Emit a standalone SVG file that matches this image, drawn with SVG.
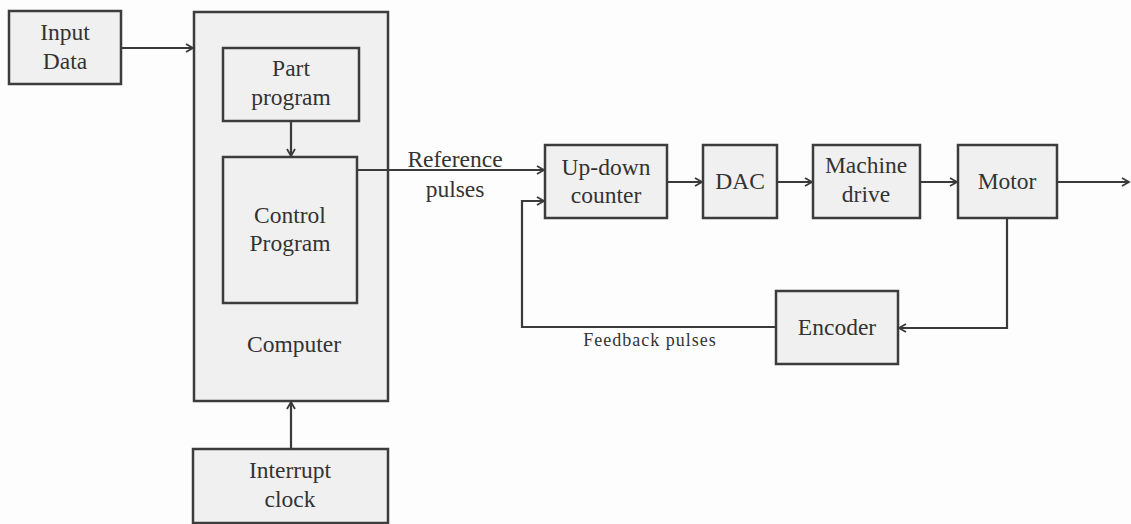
<svg xmlns="http://www.w3.org/2000/svg" width="1131" height="524" viewBox="0 0 1131 524">
  <style>
    .box { fill: #f0f0f0; stroke: #3c3c3c; stroke-width: 2.5; }
    .lbl { font-family: 'Liberation Serif', 'DejaVu Serif', serif; font-size: 23.5px; fill: #333; text-anchor: middle; }
    .small { font-family: 'Liberation Serif', 'DejaVu Serif', serif; font-size: 18px; fill: #333; text-anchor: middle; letter-spacing: 1px; }
    .wire { fill: none; stroke: #3a3a3a; stroke-width: 2.2; }
  </style>
  <defs>
    <marker id="open" markerUnits="userSpaceOnUse" markerWidth="12" markerHeight="12" refX="8" refY="5" orient="auto">
      <path d="M1,1 L8,5 L1,9" fill="none" stroke="#3a3a3a" stroke-width="1.8"/>
    </marker>
  </defs>
  <rect width="1131" height="524" fill="#fdfdfd"/>

  <g id="input-data">
    <rect class="box" x="9" y="11" width="112" height="73"/>
    <text class="lbl" x="65" y="40">Input</text>
    <text class="lbl" x="65" y="69">Data</text>
  </g>

  <g id="computer">
    <rect class="box" x="194" y="12" width="194" height="389"/>
    <text class="lbl" x="294" y="352">Computer</text>
  </g>

  <g id="part-program">
    <rect class="box" x="223" y="48" width="136" height="73"/>
    <text class="lbl" x="291" y="76">Part</text>
    <text class="lbl" x="291" y="105">program</text>
  </g>

  <g id="control-program">
    <rect class="box" x="223" y="157" width="134" height="146"/>
    <text class="lbl" x="290" y="223">Control</text>
    <text class="lbl" x="290" y="251">Program</text>
  </g>

  <g id="interrupt-clock">
    <rect class="box" x="193" y="449" width="195" height="74"/>
    <text class="lbl" x="290" y="478">Interrupt</text>
    <text class="lbl" x="290" y="507">clock</text>
  </g>

  <g id="up-down-counter">
    <rect class="box" x="545" y="145" width="122" height="73"/>
    <text class="lbl" x="606" y="175">Up-down</text>
    <text class="lbl" x="606" y="203">counter</text>
  </g>

  <g id="dac">
    <rect class="box" x="703" y="145" width="74" height="73"/>
    <text class="lbl" x="740" y="189">DAC</text>
  </g>

  <g id="machine-drive">
    <rect class="box" x="813" y="145" width="107" height="73"/>
    <text class="lbl" x="866" y="173">Machine</text>
    <text class="lbl" x="866" y="202">drive</text>
  </g>

  <g id="motor">
    <rect class="box" x="958" y="145" width="99" height="73"/>
    <text class="lbl" x="1007" y="189">Motor</text>
  </g>

  <g id="encoder">
    <rect class="box" x="776" y="291" width="122" height="73"/>
    <text class="lbl" x="837" y="335">Encoder</text>
  </g>

  <g id="connectors">
    <line class="wire" x1="121" y1="48" x2="193" y2="48" marker-end="url(#open)"/>
    <line class="wire" x1="291" y1="121" x2="291" y2="156" marker-end="url(#open)"/>
    <line class="wire" x1="357" y1="170" x2="544" y2="170" marker-end="url(#open)"/>
    <polyline class="wire" points="776,327 522,327 522,201 544,201" marker-end="url(#open)"/>
    <line class="wire" x1="291" y1="449" x2="291" y2="402" marker-end="url(#open)"/>
    <line class="wire" x1="667" y1="182" x2="702" y2="182" marker-end="url(#open)"/>
    <line class="wire" x1="777" y1="182" x2="812" y2="182" marker-end="url(#open)"/>
    <line class="wire" x1="920" y1="182" x2="957" y2="182" marker-end="url(#open)"/>
    <line class="wire" x1="1057" y1="182" x2="1129" y2="182" marker-end="url(#open)"/>
    <polyline class="wire" points="1007,218 1007,328 899,328" marker-end="url(#open)"/>
  </g>

  <g id="labels">
    <text class="lbl" x="455" y="167">Reference</text>
    <text class="lbl" x="455" y="197">pulses</text>
    <text class="small" x="650" y="346">Feedback pulses</text>
  </g>
</svg>
